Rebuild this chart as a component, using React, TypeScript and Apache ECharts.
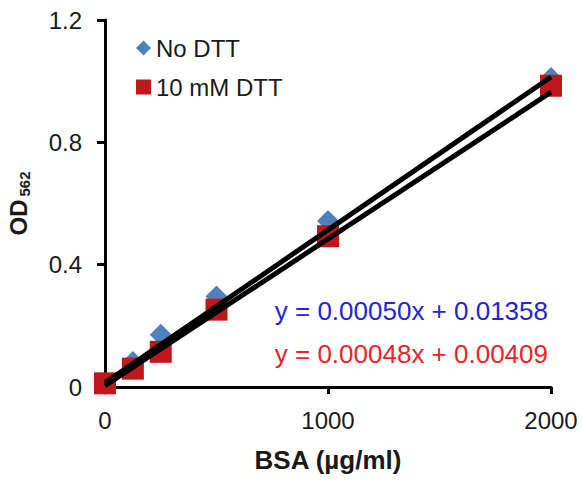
import React, { useEffect, useRef } from "react";
import * as echarts from "echarts";

const bsaConc = [0, 125, 250, 500, 1000, 2000];
const noDttOD = [0.01, 0.082, 0.171, 0.296, 0.543, 1.01];
const dttOD = [0.012, 0.06, 0.115, 0.253, 0.493, 0.985];
const seriesNames = ["No DTT", "10 mM DTT"];
const slopes = [0.0005, 0.00048];
const intercepts = [0.01358, 0.00409];
const equationTexts = ["y = 0.00050x + 0.01358", "y = 0.00048x + 0.00409"];
const xTicks = [0, 1000, 2000];
const yTicks = [0, 0.4, 0.8, 1.2];

const FONT = "'Liberation Sans', Arial, sans-serif";
const BLUE = "#4F81BD";
const RED = "#C0171D";
const FS = 24;

export default function App() {
  const ref = useRef<HTMLDivElement>(null);
  useEffect(() => {
    if (!ref.current) return;
    const chart = echarts.init(ref.current, undefined, { renderer: "svg" });
    const xMin = xTicks[0];
    const xMax = xTicks[xTicks.length - 1];
    const trend = (i: number) => [
      [xMin, intercepts[i]],
      [xMax, slopes[i] * xMax + intercepts[i]],
    ];
    chart.setOption({
      animation: false,
      backgroundColor: "#ffffff",
      textStyle: { fontFamily: FONT },
      grid: { left: 105, right: 31, top: 20, bottom: 96, outerBoundsMode: "none" },
      legend: {
        orient: "vertical",
        left: 131,
        top: 31,
        itemWidth: 15,
        itemHeight: 15,
        itemGap: 15,
        textStyle: { fontSize: FS, color: "#1a1a1a", fontFamily: FONT },
        data: [
          { name: seriesNames[0], icon: "diamond", itemStyle: { color: BLUE, opacity: 1 } },
          { name: seriesNames[1], icon: "rect", itemStyle: { color: RED, opacity: 1 } },
        ],
      },
      xAxis: {
        type: "value",
        min: xMin,
        max: xMax,
        interval: 1000,
        name: "BSA (µg/ml)",
        nameLocation: "middle",
        nameGap: 60,
        nameTextStyle: { fontSize: 26, fontWeight: "bold", color: "#1a1a1a", fontFamily: FONT },
        axisLine: { show: true, lineStyle: { color: "#000", width: 3 } },
        axisTick: { show: true, inside: false, length: 7, lineStyle: { color: "#000", width: 3 } },
        axisLabel: {
          fontSize: FS,
          color: "#1a1a1a",
          margin: 21,
          fontFamily: FONT,
          formatter: (v: number) => String(v),
        },
        splitLine: { show: false },
      },
      yAxis: {
        type: "value",
        min: yTicks[0],
        max: yTicks[yTicks.length - 1],
        interval: 0.4,
        name: "{a|OD}{b|562}",
        nameLocation: "middle",
        nameGap: 73,
        nameRotate: 90,
        nameTextStyle: {
          rich: {
            a: { fontSize: FS, fontWeight: "bold", color: "#1a1a1a", fontFamily: FONT },
            b: { fontSize: 15, fontWeight: "bold", color: "#1a1a1a", fontFamily: FONT, padding: [12, 0, 0, 3] },
          },
        },
        axisLine: { show: true, lineStyle: { color: "#000", width: 3 } },
        axisTick: { show: true, inside: false, length: 8, lineStyle: { color: "#000", width: 3 } },
        axisLabel: {
          fontSize: FS,
          color: "#1a1a1a",
          margin: 23,
          fontFamily: FONT,
          formatter: (v: number) => (v === 0 ? "0" : v.toFixed(1)),
        },
        splitLine: { show: false },
      },
      series: [
        {
          name: seriesNames[0],
          type: "scatter",
          symbol: "diamond",
          symbolSize: 22,
          itemStyle: { color: BLUE, opacity: 1 },
          z: 2,
          data: bsaConc.map((x, i) => [x, noDttOD[i]]),
        },
        {
          name: seriesNames[1],
          type: "scatter",
          symbol: "rect",
          symbolSize: 22,
          itemStyle: { color: RED, opacity: 1 },
          z: 3,
          data: bsaConc.map((x, i) => [x, dttOD[i]]),
        },
        {
          name: "trend0",
          type: "line",
          showSymbol: false,
          symbol: "none",
          lineStyle: { color: "#000", width: 5 },
          z: 4,
          data: trend(0),
        },
        {
          name: "trend1",
          type: "line",
          showSymbol: false,
          symbol: "none",
          lineStyle: { color: "#000", width: 5 },
          z: 4,
          data: trend(1),
        },
      ],
      graphic: [
        {
          type: "text",
          right: 34,
          top: 298,
          style: { text: equationTexts[0], fontSize: 26, fill: "#2424D8", fontFamily: FONT },
        },
        {
          type: "text",
          right: 34,
          top: 341,
          style: { text: equationTexts[1], fontSize: 26, fill: "#EC2328", fontFamily: FONT },
        },
      ],
    });
    return () => chart.dispose();
  }, []);
  return (
    <div
      ref={ref}
      style={{ position: "fixed", left: 0, top: 0, width: 582, height: 483 }}
    />
  );
}
